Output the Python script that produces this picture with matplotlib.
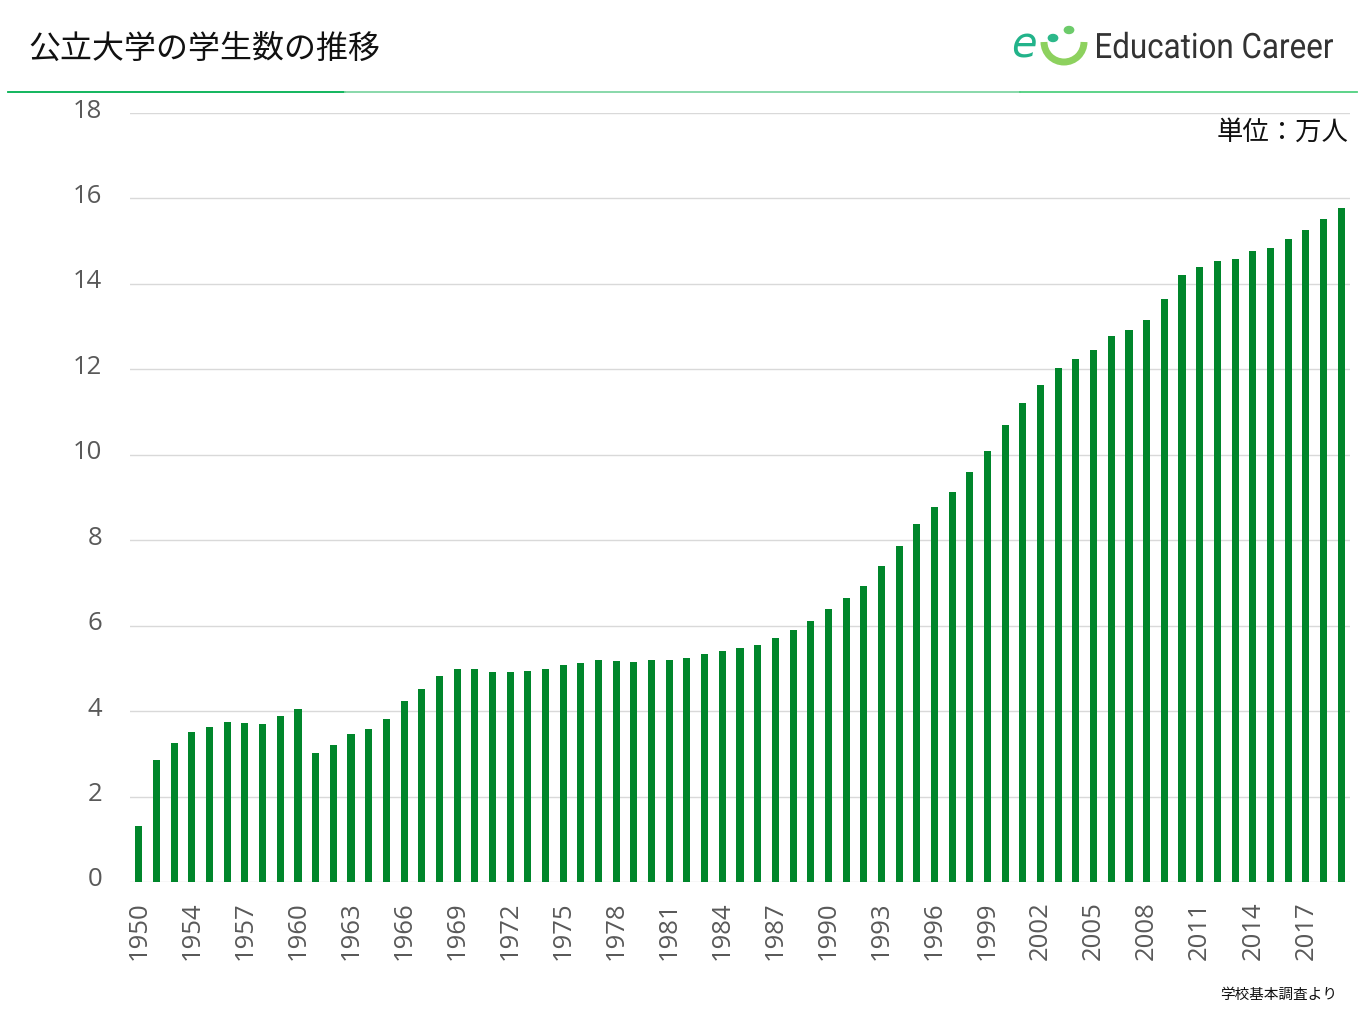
import numpy as np
import matplotlib
matplotlib.use("Agg")
import matplotlib.pyplot as plt
from matplotlib.textpath import TextPath
from matplotlib.path import Path
from matplotlib.patches import PathPatch, Arc, Circle
from matplotlib.font_manager import FontProperties
from matplotlib.transforms import ScaledTranslation

plt.rcParams['font.family'] = ['Noto Sans CJK JP', 'DejaVu Sans']

W, H = 1365, 1024

# 公立大学の学生数（万人）
YEARS = [1950] + list(range(1952, 2020))
STUDENTS = [
    1.31, 2.86, 3.25, 3.51, 3.63, 3.75, 3.72, 3.70, 3.88, 4.05,
    3.02, 3.20, 3.46, 3.58, 3.81, 4.24, 4.51, 4.82, 4.98, 4.98,
    4.91, 4.91, 4.94, 4.98, 5.07, 5.12, 5.19, 5.17, 5.15, 5.19,
    5.19, 5.24, 5.33, 5.40, 5.47, 5.54, 5.71, 5.89, 6.10, 6.38,
    6.64, 6.92, 7.39, 7.86, 8.37, 8.77, 9.14, 9.59, 10.08, 10.69,
    11.22, 11.64, 12.02, 12.25, 12.46, 12.77, 12.93, 13.16, 13.65, 14.21,
    14.40, 14.54, 14.59, 14.78, 14.85, 15.04, 15.27, 15.52, 15.78,
]
YTICKS = [0, 2, 4, 6, 8, 10, 12, 14, 16, 18]

BAR = "#00862B"
GRID = "#D9D9D9"
TICK = "#595959"
NUM_FONT = ["Open Sans", "DejaVu Sans"]


def fx(x):
    return x / W


def fy(y):
    return 1 - y / H


fig = plt.figure(figsize=(W / 100, H / 100), dpi=100)
ax = fig.add_axes([fx(130), fy(882), fx(1350) - fx(130), fy(113) - fy(882)])

xs = np.arange(len(YEARS))
ax.bar(xs, STUDENTS, width=0.40, color=BAR, zorder=3)
ax.set_xlim(-0.5, len(YEARS) - 0.5)
ax.set_ylim(0, 18)
ax.set_yticks(YTICKS)
ax.set_yticklabels([str(t) for t in YTICKS], fontsize=18.5, color=TICK, family=NUM_FONT)
ax.set_xticks(xs[::3])
ax.set_xticklabels([str(y) for y in YEARS[::3]], rotation=90, fontsize=18.5,
                   color=TICK, va="top", family=NUM_FONT)
ax.tick_params(axis="both", length=0)
ax.tick_params(axis="y", pad=20)
ax.tick_params(axis="x", pad=14)
lift = ScaledTranslation(0, 5 / 100, fig.dpi_scale_trans)
for lbl in ax.get_yticklabels():
    lbl.set_transform(lbl.get_transform() + lift)
ax.grid(axis="y", color=GRID, lw=1.0, zorder=0)
for s in ax.spines.values():
    s.set_visible(False)

# header
fig.text(fx(28), fy(49), "公立大学の学生数の推移", fontsize=23, color="#111111",
         ha="left", va="center")
fig.add_artist(plt.Line2D([fx(8), fx(345)], [fy(92), fy(92)], color="#00B050", lw=1.3))
fig.add_artist(plt.Line2D([fx(345), fx(1020)], [fy(92), fy(92)], color="#7FD6A4", lw=1.3))
fig.add_artist(plt.Line2D([fx(1020), fx(1357)], [fy(92), fy(92)], color="#4FD07F", lw=1.3))

# logo text, squeezed to the narrow face of the original
tp = TextPath((0, 0), "Education Career", size=1, prop=FontProperties(family="Roboto"))
ext = tp.get_extents()
sx = 236 / ext.width
sy = 35
verts = tp.vertices.copy()
verts[:, 0] = fx(1097 + (verts[:, 0] - ext.x0) * sx)
verts[:, 1] = fy(58 - verts[:, 1] * sy)
fig.add_artist(PathPatch(Path(verts, tp.codes), transform=fig.transFigure,
                         facecolor="#333333", edgecolor="none"))

# logo mark
fig.text(fx(1024), fy(46), "e", fontsize=30, style="italic",
         color="#22B38A", ha="center", va="center", family="DejaVu Sans")
fig.add_artist(Arc((fx(1064), fy(42)), fx(40), 40 / H, theta1=180, theta2=360,
                   transform=fig.transFigure, color="#8DD15E", lw=5))
fig.add_artist(Circle((fx(1053), fy(38)), 3.5 / H, transform=fig.transFigure,
                      color="#2CB88A"))
fig.add_artist(Circle((fx(1069), fy(30)), 3.5 / H, transform=fig.transFigure,
                      color="#6CCB6A"))

fig.text(fx(1348), fy(132), "単位：万人", fontsize=19, color="#111111",
         ha="right", va="center")
fig.text(fx(1337), fy(995), "学校基本調査より", fontsize=10.5, color="#111111",
         ha="right", va="center")

fig.savefig("out.png", dpi=100)
